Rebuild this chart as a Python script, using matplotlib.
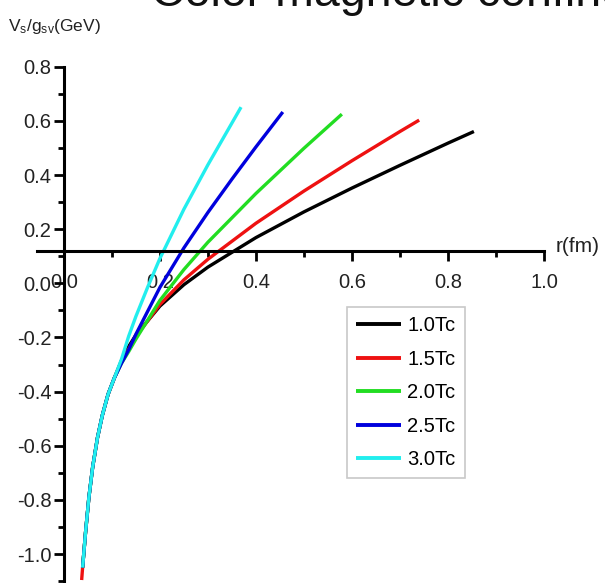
import matplotlib
matplotlib.use('Agg')
import matplotlib.pyplot as plt
from matplotlib import font_manager
from matplotlib.ticker import MultipleLocator

# curve data, r in fm, V in GeV
r_low = [0.039, 0.045, 0.052, 0.060, 0.070, 0.080, 0.092, 0.105]
v_low = [-1.05, -0.922, -0.792, -0.678, -0.570, -0.488, -0.410, -0.350]

r_10 = [0.12, 0.135, 0.15, 0.20, 0.25, 0.30, 0.40, 0.50, 0.60, 0.70, 0.80, 0.854]
v_10 = [-0.285, -0.233, -0.191, -0.084, -0.005, 0.060, 0.169, 0.264, 0.352, 0.436, 0.518, 0.561]

r_15 = [0.12, 0.135, 0.15, 0.20, 0.25, 0.30, 0.40, 0.50, 0.60, 0.70, 0.74]
v_15 = [-0.290, -0.243, -0.197, -0.078, 0.013, 0.089, 0.222, 0.341, 0.453, 0.561, 0.603]

r_20 = [0.12, 0.135, 0.15, 0.20, 0.25, 0.30, 0.40, 0.50, 0.579]
v_20 = [-0.295, -0.252, -0.206, -0.063, 0.051, 0.152, 0.332, 0.499, 0.625]

r_25 = [0.12, 0.135, 0.15, 0.20, 0.25, 0.30, 0.35, 0.40, 0.456]
v_25 = [-0.295, -0.245, -0.188, -0.015, 0.131, 0.262, 0.385, 0.504, 0.633]

r_30 = [0.12, 0.135, 0.15, 0.175, 0.20, 0.25, 0.30, 0.369]
v_30 = [-0.280, -0.195, -0.122, -0.012, 0.092, 0.274, 0.438, 0.651]

# the 1.5Tc curve reaches a bit lower than the others
r_15_start = [0.037]
v_15_start = [-1.096]

labels = ['1.0Tc', '1.5Tc', '2.0Tc', '2.5Tc', '3.0Tc']
colors = ['#000000', '#ee1111', '#22dd22', '#0000dd', '#22eeee']

names = set(f.name for f in font_manager.fontManager.ttflist)
narrow = 'Liberation Sans Narrow' if 'Liberation Sans Narrow' in names else 'Liberation Sans'
plt.rcParams['font.family'] = [narrow, 'DejaVu Sans']
plt.rcParams['mathtext.fontset'] = 'custom'
plt.rcParams['mathtext.rm'] = narrow

fig = plt.figure(figsize=(6.05, 5.83), dpi=100)
ax = fig.add_axes([37 / 605, 0, 507 / 605, 516.2 / 583])

curves = [
    (r_low + r_10, v_low + v_10),
    (r_15_start + r_low + r_15, v_15_start + v_low + v_15),
    (r_low + r_20, v_low + v_20),
    (r_low + r_25, v_low + v_25),
    (r_low + r_30, v_low + v_30),
]
for (r, v), lab, c in zip(curves, labels, colors):
    ax.plot(r, v, color=c, lw=2.4, label=lab, solid_capstyle='butt')

ax.set_xlim(-0.056, 1.0)
ax.set_ylim(-1.107, 0.8)

# axes cross like in the original figure
ax.spines['top'].set_visible(False)
ax.spines['right'].set_visible(False)
ax.spines['left'].set_position(('data', 0))
ax.spines['bottom'].set_position(('data', 0.119))
ax.spines['left'].set_linewidth(2.2)
ax.spines['bottom'].set_linewidth(2.2)
ax.spines['left'].set_bounds(-1.107, 0.8)
ax.spines['bottom'].set_bounds(-0.056, 1.0)

ax.xaxis.set_minor_locator(MultipleLocator(0.1))
ax.yaxis.set_minor_locator(MultipleLocator(0.1))
ax.set_xticks([0.0, 0.2, 0.4, 0.6, 0.8, 1.0])
ax.set_xticklabels(['0.0', '0.2', '0.4', '0.6', '0.8', '1.0'])
ax.set_yticks([-1.0, -0.8, -0.6, -0.4, -0.2, 0.0, 0.2, 0.4, 0.6, 0.8])
ax.set_yticklabels(['-1.0', '-0.8', '-0.6', '-0.4', '-0.2', '0.0', '0.2', '0.4', '0.6', '0.8'])
ax.tick_params(axis='x', which='major', direction='out', length=7, width=2, pad=9,
               labelsize=14.5, labelcolor='#222222')
ax.tick_params(axis='x', which='minor', direction='out', length=4, width=2)
ax.tick_params(axis='y', which='major', direction='out', length=7, width=2, pad=2,
               labelsize=14.5, labelcolor='#222222')
ax.tick_params(axis='y', which='minor', direction='out', length=4, width=2)
ax.patch.set_visible(False)

leg = ax.legend(loc='upper left', bbox_to_anchor=(347 / 605, 1 - 307 / 583),
                bbox_transform=fig.transFigure, fontsize=14.5, frameon=True,
                fancybox=False, handlelength=2.25, handletextpad=0.3,
                labelspacing=0.72, borderpad=0.45, borderaxespad=0)
leg.get_frame().set_edgecolor('#bbbbbb')
leg.get_frame().set_linewidth(1.2)
for line in leg.get_lines():
    line.set_linewidth(2.8)

fig.text(8 / 605, 1 - 26 / 583, r'$\mathregular{V_s/g_{sv}(GeV)}$', fontsize=12.5,
         ha='left', va='center', color='#222222')
fig.text(556 / 605, 1 - 247 / 583, 'r(fm)', fontsize=15, ha='left', va='center',
         color='#222222')
fig.text(151 / 605, 1 - 6 / 583, 'Color magnetic confinement', fontsize=33.5,
         family='Liberation Sans', ha='left', va='baseline', color='#111111')

fig.savefig('out.png', dpi=100)
